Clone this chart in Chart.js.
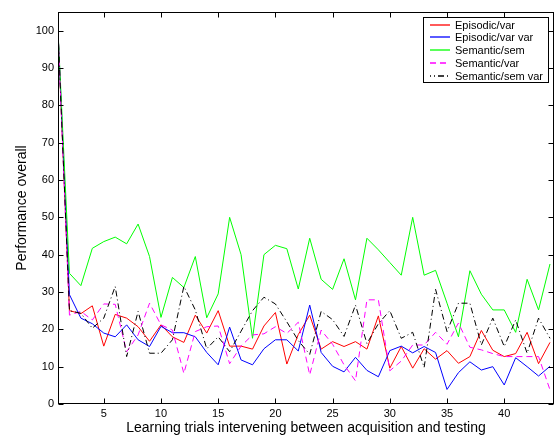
<!DOCTYPE html>
<html>
<head>
<meta charset="utf-8">
<script src="https://cdn.jsdelivr.net/npm/chart.js@4/dist/chart.umd.min.js"></script>
<style>
    html, body { margin: 0; padding: 0; background: #fff; }
    #wrap { width: 556px; height: 439px; }
</style>
</head>
<body>
<div id="wrap"><canvas id="perfChart" width="556" height="439"></canvas></div>
<script>
const trials = [1, 2, 3, 4, 5, 6, 7, 8, 9, 10, 11, 12, 13, 14, 15, 16, 17, 18, 19, 20, 21, 22,
    23, 24, 25, 26, 27, 28, 29, 30, 31, 32, 33, 34, 35, 36, 37, 38, 39, 40, 41, 42, 43, 44];

const episodicVar = [100, 25, 24.2, 26.3, 15.5, 24, 23, 20.7, 16.8, 21.2, 18, 16.5, 23.8, 19, 25, 15.5,
    15.5, 14.7, 20.9, 24.5, 10.7, 18.6, 23.8, 14.7, 16.7, 15.4, 16.7, 14.7, 23.6, 9.6, 15.4, 9.6,
    14.8, 12, 14.3, 10.9, 12.7, 19.7, 14.4, 12.7, 13.5, 19.2, 10.8, 16.5];
const episodicVarVar = [100, 29.3, 23, 21.5, 19, 18, 21.2, 17.2, 15.4, 20.8, 19.1, 19.1, 18, 13.8, 10.5, 20.6,
    11.8, 10.5, 14.8, 17.2, 17.2, 14.2, 26.5, 13.8, 10.1, 8.6, 12.5, 9, 7.3, 14.3, 15.5, 13.7,
    15.4, 13.8, 3.9, 8.4, 11.3, 9.1, 10, 5.1, 12.4, 10, 7.5, 10.1];
const semanticSem = [100, 35, 31.7, 41.7, 43.5, 44.7, 42.9, 48.2, 39.5, 23.2, 33.9, 31.2, 39.5, 23.1, 29.5, 50,
    40, 17.6, 40, 42.5, 41.6, 30.8, 44.4, 33.4, 30.7, 38.9, 27.9, 44.4, 41.3, 37.9, 34.5, 50,
    34.5, 35.8, 27, 18, 35.7, 29.4, 25.2, 25.2, 19.2, 33.4, 25.2, 37.5];
const semanticVar = [100, 23.8, 24.8, 22.5, 26.8, 26.7, 14, 18.5, 27, 21.2, 19.8, 8.2, 19.4, 20.7, 20.9, 10.8,
    15.5, 18.5, 18.8, 20.7, 18.9, 21.9, 7.8, 19.8, 16, 10.5, 6.2, 27.9, 27.9, 8.9, 11.5, 15.8,
    15.8, 19.2, 16, 21.7, 15.2, 14.5, 13.5, 12.7, 12.7, 12.7, 12.7, 3.8];
const semanticSemVar = [100, 25, 24.3, 20.3, 23, 31.5, 12.7, 24.8, 13.6, 13.6, 17.2, 31.5, 25.2, 14.8, 18, 14,
    19.5, 25, 28.6, 26.8, 22, 17, 13.3, 24.8, 22.6, 18.1, 26.5, 16.2, 21.5, 25, 17.6, 19.2,
    9.8, 30.7, 19.4, 27, 27, 15.8, 23, 15.4, 22.5, 13.6, 23, 17.6];

const xTicks = [5, 10, 15, 20, 25, 30, 35, 40];
const yTicks = [0, 10, 20, 30, 40, 50, 60, 70, 80, 90, 100];

const fontFamily = '"Liberation Sans", Arial, Helvetica, sans-serif';

function toPoints(values) {
    return values.map((v, i) => ({ x: trials[i], y: v }));
}

const seriesDefs = [
    { label: 'Episodic/var', data: episodicVar, color: '#ff0000', dash: [], order: 4 },
    { label: 'Episodic/var var', data: episodicVarVar, color: '#0000ff', dash: [], order: 3 },
    { label: 'Semantic/sem', data: semanticSem, color: '#00ff00', dash: [], order: 2 },
    { label: 'Semantic/var', data: semanticVar, color: '#ff00ff', dash: [6, 4], order: 1 },
    { label: 'Semantic/sem var', data: semanticSemVar, color: '#000000', dash: [6, 3, 1, 3], order: 0 },
];

// frame, inward ticks on all four sides, and the boxed legend
const framePlugin = {
    id: 'frame',
    afterDatasetsDraw(chart) {
        const { ctx, chartArea: a, scales } = chart;
        const L = Math.round(a.left) + 0.5;
        const R = Math.round(a.right) - 0.5;
        const T = Math.round(a.top) + 0.5;
        const B = Math.round(a.bottom) - 0.5;
        const tl = 5;

        ctx.save();
        ctx.strokeStyle = '#000';
        ctx.lineWidth = 1;
        ctx.setLineDash([]);
        ctx.strokeRect(L, T, R - L, B - T);

        ctx.beginPath();
        xTicks.forEach((v) => {
            const px = Math.round(scales.x.getPixelForValue(v)) + 0.5;
            ctx.moveTo(px, B); ctx.lineTo(px, B - tl);
            ctx.moveTo(px, T); ctx.lineTo(px, T + tl);
        });
        yTicks.forEach((v) => {
            const py = Math.round(scales.y.getPixelForValue(v)) + 0.5;
            ctx.moveTo(L, py); ctx.lineTo(L + tl, py);
            ctx.moveTo(R, py); ctx.lineTo(R - tl, py);
        });
        ctx.stroke();

        // legend
        const bx = 423.5, by = 17.5, bw = 125, bh = 65;
        ctx.fillStyle = '#fff';
        ctx.fillRect(bx, by, bw, bh);
        ctx.strokeRect(bx, by, bw, bh);
        ctx.font = '11px ' + fontFamily;
        ctx.textBaseline = 'middle';
        ctx.textAlign = 'left';
        seriesDefs.forEach((s, i) => {
            const ry = Math.round(24.5 + i * 12.9);
            ctx.beginPath();
            ctx.strokeStyle = s.color;
            ctx.lineWidth = 1.3;
            ctx.setLineDash(s.dash);
            ctx.lineDashOffset = s.dash.length === 4 ? 5 : 0;
            ctx.moveTo(430, ry);
            ctx.lineTo(450, ry);
            ctx.stroke();
            ctx.fillStyle = '#000';
            ctx.fillText(s.label, 455, ry + 0.5);
        });
        ctx.restore();
    },
};

new Chart(document.getElementById('perfChart'), {
    type: 'line',
    data: {
        datasets: seriesDefs.map((s) => ({
            label: s.label,
            data: toPoints(s.data),
            borderColor: s.color,
            backgroundColor: s.color,
            borderWidth: 1,
            borderDash: s.dash,
            pointRadius: 0,
            tension: 0,
            fill: false,
            order: s.order,
        })),
    },
    options: {
        responsive: false,
        animation: false,
        devicePixelRatio: 1,
        layout: {
            padding: { left: 0, top: 12, right: 2, bottom: 0 },
        },
        plugins: {
            legend: { display: false },
            tooltip: { enabled: false },
        },
        scales: {
            x: {
                type: 'linear',
                min: 1,
                max: 44.35,
                afterBuildTicks: (scale) => {
                    scale.ticks = xTicks.map((v) => ({ value: v }));
                },
                afterFit: (scale) => {
                    scale.height = 35;
                },
                grid: { display: false, drawTicks: false },
                border: { display: false },
                ticks: {
                    color: '#000',
                    padding: 3,
                    maxRotation: 0,
                    font: { family: fontFamily, size: 11 },
                },
                title: {
                    display: true,
                    text: 'Learning trials intervening between acquisition and testing',
                    color: '#000',
                    padding: { top: 0, bottom: 2 },
                    font: { family: fontFamily, size: 14 },
                },
            },
            y: {
                type: 'linear',
                min: 0,
                max: 105,
                afterBuildTicks: (scale) => {
                    scale.ticks = yTicks.map((v) => ({ value: v }));
                },
                afterFit: (scale) => {
                    scale.width = 58;
                },
                grid: { display: false, drawTicks: false },
                border: { display: false },
                ticks: {
                    color: '#000',
                    padding: 4,
                    font: { family: fontFamily, size: 11 },
                },
                title: {
                    display: true,
                    text: 'Performance overall',
                    color: '#000',
                    padding: { top: 14, bottom: 0 },
                    font: { family: fontFamily, size: 14 },
                },
            },
        },
    },
    plugins: [framePlugin],
});
</script>
</body>
</html>
